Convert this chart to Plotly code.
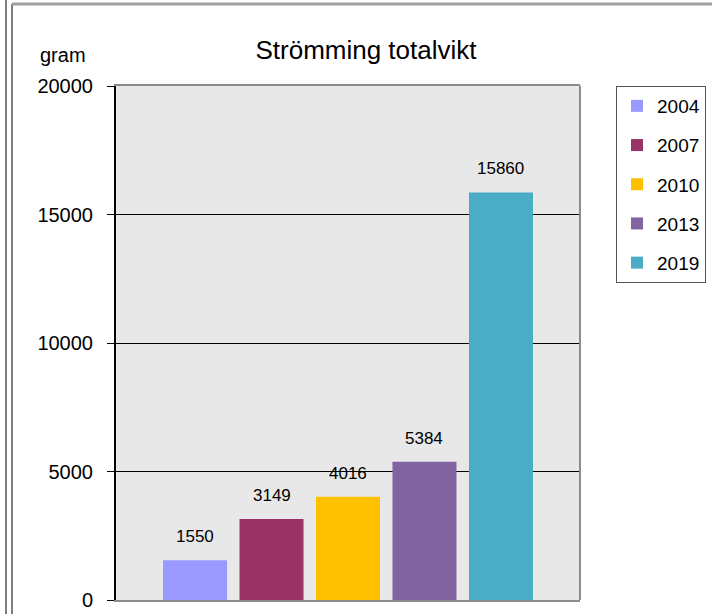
import plotly.graph_objects as go

# data
years = ["2004", "2007", "2010", "2013", "2019"]
weights = [1550, 3149, 4016, 5384, 15860]
colors = ["#9999FF", "#993366", "#FFC000", "#8064A2", "#4BACC6"]
yticks = [0, 5000, 10000, 15000, 20000]

font = "Liberation Sans, Arial, sans-serif"

fig = go.Figure()

# one trace per year so every year gets its own legend entry
for i, (yr, w, c) in enumerate(zip(years, weights, colors)):
    fig.add_trace(go.Bar(
        x=[yr], y=[w], name=yr, legendgroup=yr,
        marker=dict(color=c, line=dict(width=0)),
        hoverinfo="x+y",
    ))
    # value label above the bar (category index on the x axis)
    fig.add_annotation(
        x=i, y=w, text=str(w), showarrow=False,
        yanchor="bottom", yshift=12,
        font=dict(family=font, size=17, color="black"),
    )

# "gram" unit label above the y axis
fig.add_annotation(
    xref="paper", yref="paper", x=-0.168, y=1.06,
    text="gram", showarrow=False, xanchor="left", yanchor="middle",
    font=dict(family=font, size=20, color="black"),
)

# right border of the plot area (gray)
fig.add_shape(type="line", xref="paper", yref="paper",
              x0=1, x1=1, y0=0, y1=1,
              line=dict(color="#8c8c8c", width=2))

# outer chart frame lines
fig.add_shape(type="line", xref="paper", yref="paper",
              x0=(6 - 116) / 464, x1=(6 - 116) / 464, y0=-0.05, y1=1.2,
              line=dict(color="#7f7f7f", width=2))
fig.add_shape(type="line", xref="paper", yref="paper",
              x0=(12 - 116) / 464, x1=(12 - 116) / 464, y0=-0.05, y1=(600 - 4) / 514,
              line=dict(color="#7f7f7f", width=2))
fig.add_shape(type="line", xref="paper", yref="paper",
              x0=(12 - 116) / 464, x1=(712 - 116) / 464,
              y0=(600 - 4) / 514, y1=(600 - 4) / 514,
              line=dict(color="#a0a0a0", width=3))

fig.update_layout(
    width=712, height=614,
    margin=dict(l=116, r=132, t=86, b=14, autoexpand=False),
    paper_bgcolor="white",
    plot_bgcolor="#E8E8E8",
    barmode="overlay",
    bargap=0.163,
    showlegend=True,
    title=dict(
        text="Strömming totalvikt",
        x=(366 - 116) / 464, xref="paper", xanchor="center",
        y=1 - 50 / 614, yanchor="middle",
        font=dict(family=font, size=26, color="black"),
    ),
    legend=dict(
        x=(616 - 116) / 464, y=1, xanchor="left", yanchor="top",
        bgcolor="white", bordercolor="#555555", borderwidth=1,
        font=dict(family=font, size=19, color="black"),
        tracegroupgap=11.5,
    ),
    xaxis=dict(
        type="category",
        range=[-1.033, 5.033],
        showticklabels=False, ticks="",
        showgrid=False, zeroline=False,
        showline=True, linecolor="#8c8c8c", linewidth=2, mirror=True,
    ),
    yaxis=dict(
        range=[0, 20000],
        tickvals=yticks,
        ticktext=[str(t) for t in yticks],
        ticks="outside", ticklen=7, tickcolor="black", tickwidth=1,
        ticklabelstandoff=10,
        showgrid=True, gridcolor="black", gridwidth=1,
        zeroline=False, automargin=False,
        showline=True, linecolor="black", linewidth=2,
        tickfont=dict(family=font, size=20, color="black"),
    ),
)

# drop the browser's default body margin so the figure sits at (0, 0)
fig.write_html("out.html", config={"displayModeBar": False},
               post_script="document.body.style.margin='0px';")
